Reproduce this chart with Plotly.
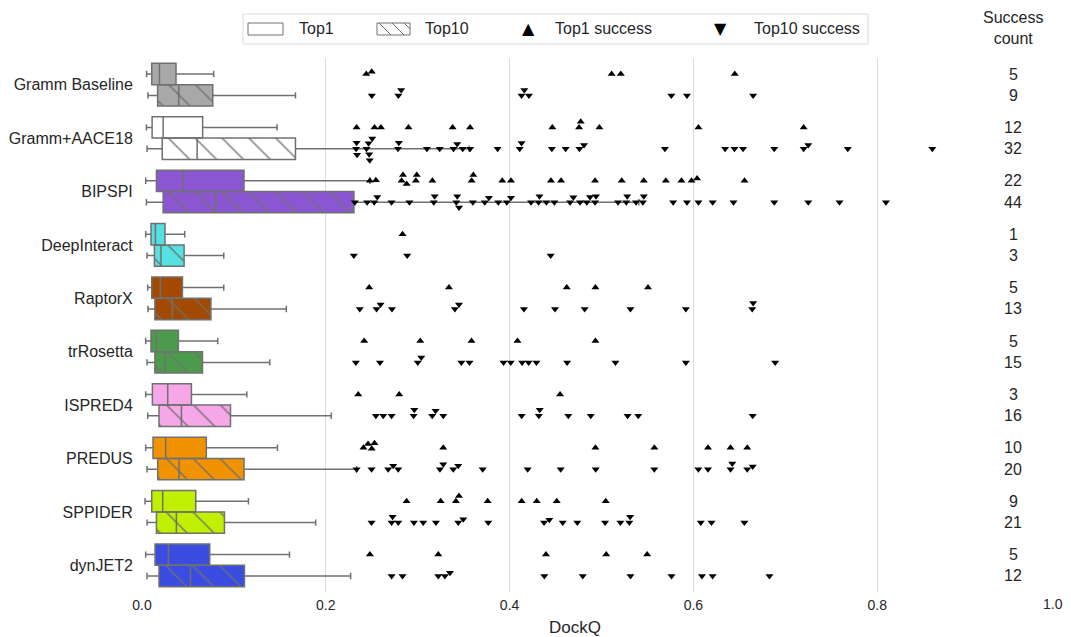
import math
import plotly.graph_objects as go

methods = ["Gramm Baseline", "Gramm+AACE18", "BIPSPI", "DeepInteract", "RaptorX",
           "trRosetta", "ISPRED4", "PREDUS", "SPPIDER", "dynJET2"]
colors = ["#a8a8a8", "#ffffff", "#8a56d2", "#55e0e2", "#a24a02",
          "#4c9b4c", "#f5a7e7", "#f19200", "#bff000", "#3b4de0"]

# Box statistics (DockQ) for Top1 models
top1_lo = [0.005, 0.0048, 0.004, 0.004, 0.0062, 0.004, 0.004, 0.004, 0.0033, 0.004]
top1_q1 = [0.0106, 0.011, 0.0157, 0.0098, 0.0106, 0.0098, 0.0113, 0.012, 0.0106, 0.0142]
top1_med = [0.019, 0.023, 0.0447, 0.0146, 0.020, 0.0157, 0.028, 0.0258, 0.0225, 0.0287]
top1_q3 = [0.037, 0.066, 0.111, 0.025, 0.044, 0.0396, 0.0538, 0.070, 0.0585, 0.0737]
top1_hi = [0.078, 0.147, 0.248, 0.0465, 0.089, 0.0824, 0.114, 0.1474, 0.1158, 0.1605]

# Box statistics (DockQ) for Top10 models
top10_lo = [0.0065, 0.0055, 0.0048, 0.0055, 0.0065, 0.0055, 0.0062, 0.0055, 0.0055, 0.0055]
top10_q1 = [0.017, 0.022, 0.023, 0.0135, 0.014, 0.014, 0.0185, 0.0171, 0.0157, 0.0185]
top10_med = [0.040, 0.060, 0.080, 0.0207, 0.033, 0.025, 0.0429, 0.0403, 0.0374, 0.0527]
top10_q3 = [0.077, 0.167, 0.2306, 0.0458, 0.075, 0.0658, 0.0963, 0.111, 0.0897, 0.1115]
top10_hi = [0.167, 0.356, 0.5406, 0.089, 0.157, 0.139, 0.206, 0.2335, 0.189, 0.227]

# Successful targets (DockQ >= 0.23)
top1_success = [
    [0.244, 0.250, 0.511, 0.521, 0.645],
    [0.2335, 0.253, 0.260, 0.290, 0.338, 0.357, 0.4465, 0.4756, 0.4774, 0.4977, 0.6055, 0.720],
    [0.248, 0.2545, 0.2825, 0.284, 0.288, 0.298, 0.299, 0.316, 0.3587, 0.3605, 0.392, 0.4015,
     0.445, 0.456, 0.493, 0.522, 0.546, 0.570, 0.587, 0.598, 0.604, 0.6556],
    [0.2835],
    [0.2472, 0.334, 0.4622, 0.4934, 0.5506],
    [0.2418, 0.3028, 0.3585, 0.4086, 0.4934],
    [0.2353, 0.2799, 0.4549],
    [0.241, 0.246, 0.250, 0.253, 0.3278, 0.4934, 0.5575, 0.6159, 0.6404, 0.6586],
    [0.2879, 0.325, 0.3416, 0.3449, 0.3761, 0.4131, 0.4295, 0.4513, 0.5046],
    [0.248, 0.3224, 0.4396, 0.5051, 0.5497],
]
top10_success = [
    [0.250, 0.279, 0.282, 0.413, 0.416, 0.421, 0.576, 0.593, 0.665],
    [0.2330, 0.2335, 0.2340, 0.2443, 0.2465, 0.2472, 0.2478, 0.2505, 0.2785, 0.2795, 0.310,
     0.324, 0.339, 0.343, 0.349, 0.357, 0.387, 0.411, 0.413, 0.446, 0.461, 0.476, 0.481,
     0.569, 0.6345, 0.6447, 0.654, 0.688, 0.720, 0.725, 0.768, 0.860],
    [0.2316, 0.245, 0.2527, 0.256, 0.2715, 0.291, 0.3175, 0.3185, 0.342, 0.343, 0.345, 0.360,
     0.373, 0.3775, 0.3877, 0.397, 0.4015, 0.4233, 0.4315, 0.4325, 0.440, 0.4487, 0.4658,
     0.4694, 0.4766, 0.484, 0.4875, 0.493, 0.494, 0.518, 0.527, 0.528, 0.5376, 0.545, 0.546,
     0.578, 0.593, 0.6055, 0.621, 0.6436, 0.688, 0.725, 0.759, 0.8095],
    [0.2305, 0.2886, 0.4447],
    [0.237, 0.2552, 0.2596, 0.272, 0.3405, 0.3449, 0.4156, 0.4494, 0.4817, 0.5315, 0.5918,
     0.6640, 0.6650],
    [0.2327, 0.2589, 0.3001, 0.3039, 0.3475, 0.3564, 0.3934, 0.4012, 0.4136, 0.4207, 0.4292,
     0.4626, 0.5152, 0.5918, 0.689],
    [0.2545, 0.2625, 0.2716, 0.2955, 0.2963, 0.3158, 0.3195, 0.3278, 0.4131, 0.4318, 0.4328,
     0.4639, 0.4883, 0.5284, 0.540, 0.6645],
    [0.2335, 0.2498, 0.2679, 0.2733, 0.2788, 0.3242, 0.3278, 0.3387, 0.3441, 0.3707, 0.4197,
     0.4556, 0.4937, 0.5575, 0.6054, 0.6159, 0.6404, 0.6423, 0.6586, 0.6645],
    [0.2498, 0.2716, 0.2727, 0.2788, 0.2959, 0.306, 0.3198, 0.3441, 0.3496, 0.3768, 0.4375,
     0.4432, 0.4578, 0.4737, 0.5039, 0.5206, 0.5303, 0.5311, 0.608, 0.6197, 0.6555],
    [0.2716, 0.2835, 0.3224, 0.3296, 0.3351, 0.4378, 0.4796, 0.5315, 0.5762, 0.6093, 0.6209,
     0.6828],
]
legend_labels = ["Top1", "Top10", "Top1 success", "Top10 success"]
x_ticks = [0.0, 0.2, 0.4, 0.6, 0.8, 1.0]
x_ticktext = ["0.0", "0.2", "0.4", "0.6", "0.8", ""]
last_tick_label = "1.0"

W, H = 1071, 637
ML, MR, MT, MB = 142, 10, 58, 45
PX_X = W - ML - MR          # px per DockQ unit (plot width)
PH = H - MT - MB            # plot height in px
PX_Y = PH / 10              # px per category
EDGE = "#707070"
FONT = "Arial, Liberation Sans, sans-serif"
TXT = "#262626"
D = 6.0  # marker collision diameter in px


def px2x(px):
    return (px - ML) / PX_X


def py2y(py):
    return 1 - (py - MT) / PH


def swarm(values):
    """Simple beeswarm layout: returns vertical offsets (px) avoiding overlaps."""
    order = sorted(range(len(values)), key=lambda i: values[i])
    placed = []
    offs = [0.0] * len(values)
    for i in order:
        x = values[i] * PX_X
        near = [(px, py) for px, py in placed if abs(px - x) < D]
        cands = [0.0]
        for px, py in near:
            dy = math.sqrt(max(D * D - (px - x) ** 2, 0))
            cands += [py - dy, py + dy]
        cands.sort(key=lambda c: (round(abs(c), 3), c))
        for c in cands:
            if all((px - x) ** 2 + (py - c) ** 2 >= D * D - 1e-6 for px, py in near):
                break
        placed.append((x, c))
        offs[i] = c
    return offs


fig = go.Figure()

for k, name in enumerate(methods):
    for h, (lo, q1, md, q3, hi) in enumerate([
        (top1_lo, top1_q1, top1_med, top1_q3, top1_hi),
        (top10_lo, top10_q1, top10_med, top10_q3, top10_hi),
    ]):
        pos = k - 0.2 + 0.4 * h
        pattern = dict(shape="\\", fgcolor=EDGE, bgcolor=colors[k], size=19, solidity=0.07,
                       fillmode="replace") if h == 1 else None
        fig.add_trace(go.Bar(
            y=[pos], x=[q3[k] - q1[k]], base=[q1[k]], orientation="h", width=0.4,
            marker=dict(color=colors[k], line=dict(width=0), pattern=pattern),
            showlegend=False, hoverinfo="skip", zorder=1))
        fig.add_trace(go.Box(
            y=[pos], q1=[q1[k]], median=[md[k]], q3=[q3[k]],
            lowerfence=[lo[k]], upperfence=[hi[k]], orientation="h", width=0.4,
            fillcolor="rgba(0,0,0,0)", line=dict(color=EDGE, width=1.5),
            whiskerwidth=0.3, boxpoints=False, showlegend=False, hoverinfo="skip",
            zorder=2))

    for h, (vals, sym) in enumerate([(top1_success[k], "triangle-up"),
                                     (top10_success[k], "triangle-down")]):
        pos = k - 0.2 + 0.4 * h
        offs = swarm(vals)
        fig.add_trace(go.Scatter(
            x=vals, y=[pos + o / PX_Y for o in offs], mode="markers",
            marker=dict(symbol=sym, size=7, color="black", line=dict(width=0)),
            showlegend=False, hoverinfo="skip", zorder=3))

# success counts
for k in range(len(methods)):
    for h, arr in enumerate([top1_success, top10_success]):
        fig.add_annotation(x=0.948, y=k - 0.2 + 0.4 * h, xref="x", yref="y",
                           text=str(len(arr[k])), showarrow=False,
                           xanchor="center", yanchor="middle",
                           font=dict(size=16, color=TXT, family=FONT))
fig.add_annotation(x=0.948, y=py2y(28), xref="x", yref="paper",
                   text="Success<br>count", showarrow=False,
                   xanchor="center", yanchor="middle",
                   font=dict(size=16, color=TXT, family=FONT))

# x-axis title and last tick label (kept inside the page)
fig.add_annotation(x=px2x(575), y=py2y(627), xref="paper", yref="paper", text="DockQ",
                   showarrow=False, xanchor="center", yanchor="middle",
                   font=dict(size=17, color=TXT, family=FONT))
fig.add_annotation(x=px2x(1053), y=py2y(604), xref="paper", yref="paper",
                   text=last_tick_label, showarrow=False, xanchor="center",
                   yanchor="middle", font=dict(size=14, color=TXT, family=FONT))

# ----- manual legend (layout decoration) -----
shapes = []
shapes.append(dict(type="rect", xref="paper", yref="paper",
                   x0=px2x(243), x1=px2x(868), y0=py2y(44), y1=py2y(14),
                   line=dict(color="#dcdcdc", width=1), fillcolor="white", layer="above"))
shapes.append(dict(type="rect", xref="paper", yref="paper",
                   x0=px2x(248), x1=px2x(283), y0=py2y(35), y1=py2y(23),
                   line=dict(color=EDGE, width=1), fillcolor="white", layer="above"))
shapes.append(dict(type="rect", xref="paper", yref="paper",
                   x0=px2x(377), x1=px2x(410), y0=py2y(35), y1=py2y(23),
                   line=dict(color=EDGE, width=1), fillcolor="white", layer="above"))
for hx0, hx1, hy1 in [(379, 391, 35), (392, 404, 35), (404, 410, 29)]:
    shapes.append(dict(type="line", xref="paper", yref="paper",
                       x0=px2x(hx0), x1=px2x(hx1), y0=py2y(23), y1=py2y(hy1),
                       line=dict(color=EDGE, width=1), layer="above"))
fig.update_layout(shapes=shapes)

for tx, lab in zip([297, 423, 553, 752], legend_labels):
    fig.add_annotation(x=px2x(tx), y=py2y(29), xref="paper", yref="paper", text=lab,
                       showarrow=False, xanchor="left", yanchor="middle",
                       font=dict(size=16, color=TXT, family=FONT))
for tx, glyph in [(528, "▲"), (720, "▼")]:
    fig.add_annotation(x=px2x(tx), y=py2y(29), xref="paper", yref="paper", text=glyph,
                       showarrow=False, xanchor="center", yanchor="middle",
                       font=dict(size=16, color="black", family="DejaVu Sans"))

fig.update_layout(
    width=W, height=H, margin=dict(l=ML, r=MR, t=MT, b=MB, autoexpand=False),
    paper_bgcolor="white", plot_bgcolor="white", barmode="overlay",
    font=dict(family=FONT, size=15, color=TXT), showlegend=False,
    xaxis=dict(range=[0, 1], tickvals=x_ticks, ticktext=x_ticktext,
               showgrid=True, gridcolor="#dcdcdc", gridwidth=1, zeroline=False,
               showline=True, mirror=True, linecolor="#d0d0d0", linewidth=1,
               ticks="", tickfont=dict(size=14), automargin=False),
    yaxis=dict(range=[9.5, -0.5], tickvals=list(range(len(methods))), ticktext=methods,
               showgrid=False, zeroline=False, showline=True, mirror=True,
               linecolor="#d0d0d0", linewidth=1, ticks="", tickfont=dict(size=16),
               ticklabelstandoff=5, automargin=False),
)

fig.write_html("out.html", config={"displayModeBar": False},
               post_script="document.body.style.margin='0px';")
